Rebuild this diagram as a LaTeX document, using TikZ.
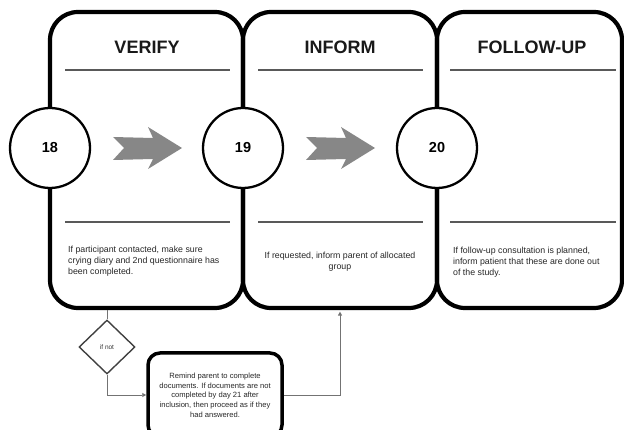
\documentclass[tikz,border=0pt]{standalone}
\usepackage{fontspec}
\setmainfont{Liberation Sans}
\usepackage{xcolor}
\usetikzlibrary{shapes.geometric,arrows.meta}

\begin{document}
\begin{tikzpicture}[x=1pt,y=-1pt,
    panel/.style={draw,line width=4.2pt,rounded corners=28pt,minimum height=296pt,minimum width=#1},
    stepno/.style={draw,fill=white,line width=2.3pt,circle,minimum size=80pt,font=\fontsize{14.5}{16}\selectfont\bfseries},
    title/.style={font=\fontsize{18}{20}\selectfont\bfseries,text=black!90},
    rule/.style={draw=black!65,line width=1.3pt},
    body/.style={font=\fontsize{8.8}{11}\selectfont,text=black!85,inner sep=0pt},
    link/.style={draw=black!55,line width=0.9pt}]

    \useasboundingbox (0,0) rectangle (624,430);
    \clip (0,0) rectangle (624,430);

    % the three panels
    \node[panel=193pt] (verify) at (146.5,160) {};
    \node[panel=194pt] (inform) at (340,160) {};
    \node[panel=185pt] (follow) at (529.5,160) {};

    \node[title] (tverify) at (147,47) {VERIFY};
    \node[title] (tinform) at (340,47) {INFORM};
    \node[title] (tfollow) at (532,47) {FOLLOW-UP};

    \draw[rule] (65,70) -- (230,70);
    \draw[rule] (258,70) -- (423,70);
    \draw[rule] (450,70) -- (616,70);

    \draw[rule] (65,222) -- (230,222);
    \draw[rule] (258,222) -- (423,222);
    \draw[rule] (450,222) -- (616,222);

    \node[body,anchor=north west,align=left] (bverify) at (68,246)
        {If participant contacted, make sure\\crying diary and 2nd questionnaire has\\been completed.};
    \node[body,anchor=north,align=center] (binform) at (340,252)
        {If requested, inform parent of allocated\\group};
    \node[body,anchor=north west,align=left] (bfollow) at (453,247)
        {If follow-up consultation is planned,\\inform patient that these are done out\\of the study.};

    % gray arrows between steps
    \fill[black!47] (113,137) -- (153,138) -- (148,127) -- (182,148) -- (148,169)
        -- (153,159) -- (113,160) -- (124,148) -- cycle;
    \fill[black!47] (306,137) -- (346,138) -- (341,127) -- (375,148) -- (341,169)
        -- (346,159) -- (306,160) -- (317,148) -- cycle;

    % step numbers
    \node[stepno] (s18) at (50,148) {18};
    \node[stepno] (s19) at (243,148) {19};
    \node[stepno] (s20) at (437,148) {20};

    % reminder branch
    \node[diamond,draw=black!75,line width=1.4pt,minimum width=56pt,minimum height=54pt,
        inner sep=0pt,font=\fontsize{6.5}{7}\selectfont,text=black!80] (ifnot) at (107,347) {if not};
    \node[draw,line width=3.5pt,rounded corners=12pt,minimum width=134pt,minimum height=84pt,
        align=center,font=\fontsize{7.6}{9.7}\selectfont,text=black!85] (remind) at (215,395)
        {Remind parent to complete\\documents. If documents are not\\completed by day 21 after\\inclusion, then proceed as if they\\had answered.};

    \draw[link] (ifnot.north) -- (ifnot.north |- verify.south);
    \draw[link,-{Triangle[length=4pt,width=4pt]}] (ifnot.south) |- (remind.west);
    \draw[link,-{Triangle[length=4pt,width=4pt]},shorten >=1.5pt] (remind.east) -| (inform.south);
\end{tikzpicture}
\end{document}
